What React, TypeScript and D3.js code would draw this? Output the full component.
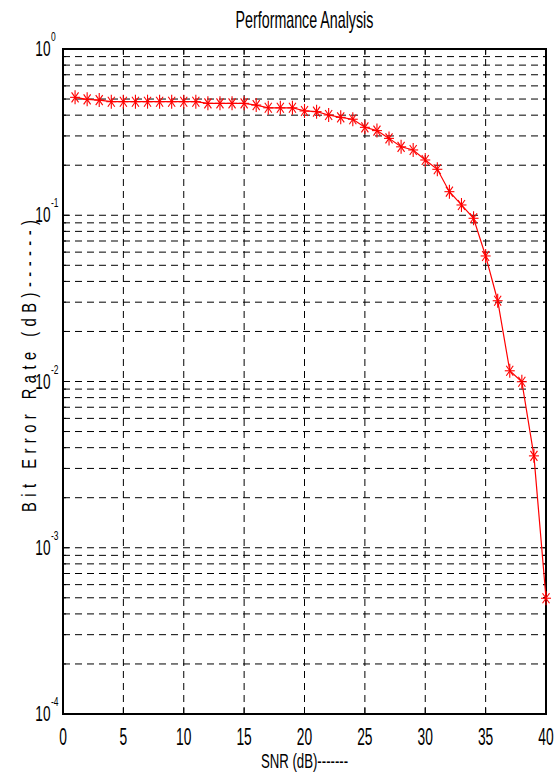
import React from "react";
import * as d3 from "d3";

// SNR points (dB) and measured bit error rate
const snr = [
  1, 2, 3, 4, 5, 6, 7, 8, 9, 10, 11, 12, 13, 14, 15, 16, 17, 18, 19, 20,
  21, 22, 23, 24, 25, 26, 27, 28, 29, 30, 31, 32, 33, 34, 35, 36, 37, 38, 39, 40,
];
const ber = [
  0.512, 0.498, 0.493, 0.482, 0.482, 0.482, 0.482, 0.482, 0.482, 0.482, 0.482,
  0.471, 0.471, 0.471, 0.471, 0.46, 0.443, 0.443, 0.443, 0.424, 0.42, 0.401,
  0.388, 0.378, 0.338, 0.323, 0.29, 0.258, 0.247, 0.215, 0.189, 0.1386, 0.1153,
  0.0959, 0.0569, 0.0306, 0.0116, 0.00997, 0.00357, 0.000497,
];
const xTicks = [0, 5, 10, 15, 20, 25, 30, 35, 40];
const yDecades = [-4, -3, -2, -1, 0];
const mantissas = [1, 2, 3, 4, 5, 6, 7, 8, 9];

const W = 554;
const H = 783;
const margin = { top: 49, right: 8, bottom: 69, left: 63 };
const FONT = "'Liberation Sans', Arial, sans-serif";

const App = () => {
  const x = d3
    .scaleLinear()
    .domain([0, 40])
    .range([margin.left, W - margin.right]);
  const y = d3
    .scaleLog()
    .domain([1e-4, 1])
    .range([H - margin.bottom, margin.top]);

  const [x0, x1] = x.range();
  const [y0, y1] = y.range();

  // every minor value inside the domain
  const minor: number[] = [];
  yDecades.slice(0, -1).forEach((e) => {
    mantissas.forEach((m) => minor.push(m * Math.pow(10, e)));
  });
  minor.push(1);

  const pts = snr.map((s, i) => [x(s), y(ber[i])] as [number, number]);
  const line = d3.line()(pts);

  // the source font is tall and narrow, so squeeze it sideways
  const label = (
    tx: number,
    ty: number,
    text: string,
    size: number,
    anchor: string,
    sx = 0.58
  ) => (
    <text
      transform={`translate(${tx},${ty}) scale(${sx},1)`}
      fontSize={size}
      textAnchor={anchor}
      fontFamily={FONT}
      fill="#000"
    >
      {text}
    </text>
  );

  return (
    <svg
      width={W}
      height={H}
      style={{ position: "absolute", left: 0, top: 0, background: "#fff" }}
    >
      <rect width={W} height={H} fill="#fff" />

      {/* title */}
      {label((x0 + x1) / 2, 28, "Performance Analysis", 23, "middle", 0.62)}

      {/* horizontal grid */}
      {minor.map((v, i) => (
        <line
          key={"hg" + i}
          x1={x0}
          x2={x1}
          y1={y(v)}
          y2={y(v)}
          stroke="#000"
          strokeWidth={1}
          strokeDasharray="7,5"
        />
      ))}
      {/* vertical grid */}
      {xTicks.slice(1, -1).map((t) => (
        <line
          key={"vg" + t}
          x1={x(t)}
          x2={x(t)}
          y1={y0}
          y2={y1}
          stroke="#000"
          strokeWidth={1}
          strokeDasharray="7,5"
        />
      ))}

      {/* y ticks, both sides */}
      {minor.map((v, i) => {
        const major = Math.abs(Math.log10(v) - Math.round(Math.log10(v))) < 1e-9;
        const len = major ? 6 : 3;
        return (
          <g key={"yt" + i}>
            <line x1={x0} x2={x0 + len} y1={y(v)} y2={y(v)} stroke="#000" />
            <line x1={x1} x2={x1 - len} y1={y(v)} y2={y(v)} stroke="#000" />
          </g>
        );
      })}
      {/* x ticks, top and bottom */}
      {xTicks.map((t) => (
        <g key={"xt" + t}>
          <line x1={x(t)} x2={x(t)} y1={y0} y2={y0 - 6} stroke="#000" />
          <line x1={x(t)} x2={x(t)} y1={y1} y2={y1 + 6} stroke="#000" />
        </g>
      ))}

      {/* axes box */}
      <rect
        x={x0}
        y={y1}
        width={x1 - x0}
        height={y0 - y1}
        fill="none"
        stroke="#000"
        strokeWidth={2}
      />

      {/* x tick labels */}
      {xTicks.map((t) => (
        <g key={"xl" + t}>{label(x(t), 745, String(t), 23, "middle", 0.6)}</g>
      ))}

      {/* y tick labels 10^e */}
      {yDecades.map((e) => (
        <g key={"yl" + e}>
          {label(50.5, y(Math.pow(10, e)) + 7, "10", 22, "end", 0.62)}
          {label(51, y(Math.pow(10, e)) - 8, String(e), 13, "start", 0.65)}
        </g>
      ))}

      {/* axis titles */}
      {label((x0 + x1) / 2, 768, "SNR (dB)-------", 20, "middle", 0.66)}
      <text
        transform={`translate(36,366) rotate(-90) scale(0.7,1)`}
        fontSize={21}
        textAnchor="middle"
        fontFamily={FONT}
        textLength={292 / 0.7}
        lengthAdjust="spacing"
      >
        Bit Error Rate (dB)------)
      </text>

      {/* data */}
      <path d={line ?? ""} fill="none" stroke="#ff0000" strokeWidth={1.2} />
      {pts.map(([px, py], i) => (
        <g key={"m" + i} stroke="#ff0000" strokeWidth={1.1}>
          <line x1={px} x2={px} y1={py - 7} y2={py + 7} />
          <line x1={px - 5} x2={px + 5} y1={py} y2={py} />
          <line x1={px - 3.5} x2={px + 3.5} y1={py - 5} y2={py + 5} />
          <line x1={px - 3.5} x2={px + 3.5} y1={py + 5} y2={py - 5} />
        </g>
      ))}
    </svg>
  );
};

export default App;
